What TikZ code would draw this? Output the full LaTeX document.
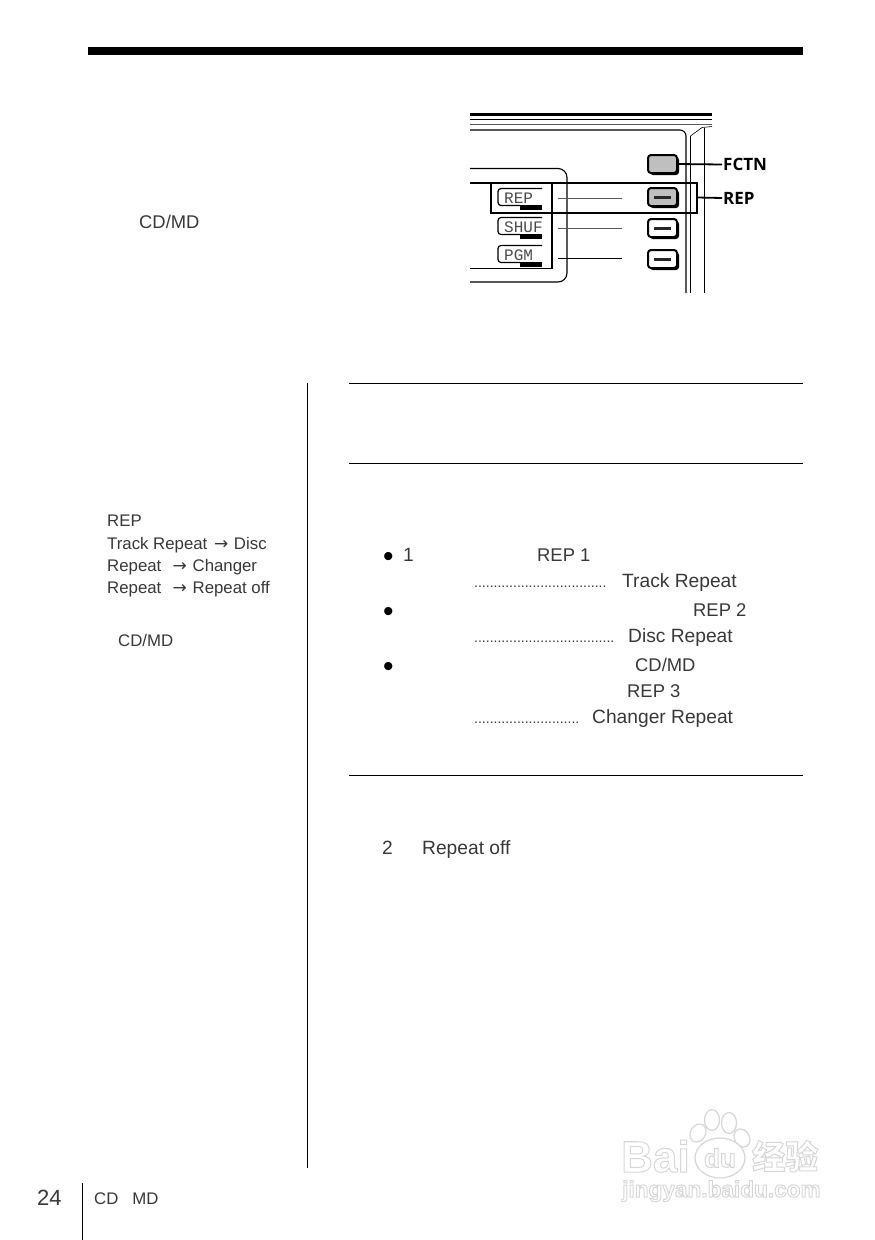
\documentclass[tikz,border=0pt]{standalone}
\usepackage{fontspec}
\setmainfont{Liberation Sans}
\newfontfamily\labelfont{Open Sans}
\newfontfamily\lcdfont{Liberation Mono}
\newfontfamily\markfont{Noto Sans CJK SC}
\newfontfamily\arrowfont{DejaVu Sans}
\usetikzlibrary{shadows,shapes.geometric}
\definecolor{ink}{gray}{0.22}
\definecolor{wmark}{gray}{0.84}
\newcommand{\wmoutline}[1]{\special{pdf:code 1 Tr 1 w 0.84 G}#1\special{pdf:code 0 Tr}}
\newcommand{\sidearrow}{\hspace{2pt}{\arrowfont\fontsize{17}{20}\selectfont →}\hspace{1pt}}
\tikzset{
	body/.style={anchor=base west, inner sep=0pt, text=ink, font=\fontsize{19.2}{22}\selectfont},
	capsbody/.style={body, font=\fontsize{18.4}{22}\selectfont},
	side/.style={anchor=base west, inner sep=0pt, text=ink, font=\fontsize{16.8}{20}\selectfont},
	leader/.style={anchor=base west, inner sep=0pt, text=ink, font=\fontsize{14}{14}\selectfont},
	bigdot/.style={anchor=base west, inner sep=0pt, text=black, font=\fontsize{30}{30}\selectfont},
	callout/.style={anchor=west, inner sep=0pt, font=\labelfont\bfseries\fontsize{17}{20}\selectfont},
	lcd/.style={anchor=west, inner sep=0pt, text=black!70, font=\lcdfont\fontsize{16}{16}\selectfont},
	panelkey/.style={draw, line width=2pt, rounded corners=3pt, minimum width=29pt, minimum height=18pt, inner sep=0pt, fill=white, drop shadow={shadow xshift=2pt, shadow yshift=-2pt, fill=black, opacity=1}},
	graykey/.style={panelkey, fill=black!25},
	wmtext/.style={inner sep=0pt, text=wmark},
	wmtoe/.style={draw=wmark, fill=white, line width=1.2pt, ellipse, inner sep=0pt}
}
\begin{document}
\begin{tikzpicture}[x=1pt, y=-1pt]
		\useasboundingbox (0,0) rectangle (875,1240);
		\fill (88,46.5) rectangle (803,55);

		\draw[line width=2.5pt] (470,114.5) -- (712,114.5);
		\draw[line width=0.8pt] (470,119.5) -- (712,119.5);
		\draw[line width=1.3pt, black!65] (470,124.5) -- (712,124.5);
		\draw[line width=1.1pt] (470,130) -- (680,130) to[out=0, in=90] (686,136) -- (686,293);
		\draw[line width=1.1pt] (690.5,136) -- (690.5,293);
		\draw[line width=1.1pt] (704.5,128) -- (704.5,293);
		\draw[line width=0.6pt] (690.5,136) -- (702,127.5) -- (712,126.5);

		\draw[line width=1.1pt, rounded corners=9pt] (470,168.5) -- (567,168.5) -- (567,282) -- (470,282);
		\draw[line width=1.1pt] (470,183) -- (491,183);
		\draw[line width=1.1pt] (470,268.5) -- (552,268.5) -- (552,184);

		\draw[line width=1.2pt, rounded corners=3pt] (542,188.5) -- (498,188.5) -- (498,205.5) -- (520,205.5);
		\fill (520,204.5) rectangle (542,209.5);
		\node[lcd] (reptag) at (504,198) {REP};
		\draw[line width=1.2pt, rounded corners=3pt] (542,217.5) -- (498,217.5) -- (498,234.5) -- (520,234.5);
		\fill (520,233.5) rectangle (542,238.5);
		\node[lcd] (shuftag) at (504,227) {SHUF};
		\draw[line width=1.2pt, rounded corners=3pt] (542,245.5) -- (498,245.5) -- (498,262.5) -- (520,262.5);
		\fill (520,261.5) rectangle (542,266.5);
		\node[lcd] (pgmtag) at (504,255) {PGM};

		\node[graykey] (fctnkey) at (662.5,164) {};
		\node[graykey] (repkey) at (662.5,197) {};
		\node[panelkey] (shufkey) at (662.5,228) {};
		\node[panelkey] (pgmkey) at (662.5,259) {};
		\draw[line width=2.4pt, black!85] (654,197.5) -- (671,197.5);
		\draw[line width=2.4pt, black!85] (654,228.5) -- (671,228.5);
		\draw[line width=2.4pt, black!85] (654,259.5) -- (671,259.5);

		\draw[line width=1pt, black!65] (558,198) -- (622,198);
		\draw[line width=1pt, black!65] (558,228) -- (622,228);
		\draw[line width=1pt] (558,258) -- (622,258);

		\node[draw, line width=2pt, minimum width=206pt, minimum height=30pt, inner sep=0pt] (repbox) at (593.5,197.5) {};

		\node[callout] (fctnlabel) at (723,164.5) {FCTN};
		\node[callout] (replabel) at (723,198) {REP};
		\draw[line width=1.8pt] (fctnkey.east) -- ([xshift=-1pt]fctnlabel.west);
		\draw[line width=1.8pt] (repbox.east) -- ([xshift=-1pt]replabel.west);

		\node[capsbody] (cdmd) at (139,228) {CD/MD};

		\draw[line width=1pt] (307.5,383) -- (307.5,1168);
		\draw[line width=1pt] (349,383.5) -- (803,383.5);
		\draw[line width=1pt] (349,463.5) -- (803,463.5);
		\draw[line width=1pt] (349,775) -- (803,775);

		\node[side] (siderep) at (107,526) {REP};
		\node[side] (sidea) at (107,549) {Track Repeat \sidearrow{} Disc};
		\node[side] (sideb) at (107,571) {Repeat \ \sidearrow{} Changer};
		\node[side] (sidec) at (107,593) {Repeat \ \sidearrow{} Repeat off};
		\node[side] (sidecd) at (118,646) {CD/MD};

		\node[bigdot] (bulleta) at (383,566) {•};
		\node[body] (onea) at (403,561) {1};
		\node[capsbody] (repa) at (537,561) {REP 1};
		\node[leader] (dotsa) at (474,587) {..................................};
		\node[body] (tracka) at (622,587) {Track Repeat};
		\node[bigdot] (bulletb) at (383,621) {•};
		\node[capsbody] (repb) at (693,616) {REP 2};
		\node[leader] (dotsb) at (474,642) {....................................};
		\node[body] (discb) at (628,642) {Disc Repeat};
		\node[bigdot] (bulletc) at (383,676) {•};
		\node[capsbody] (cdmdc) at (635,671) {CD/MD};
		\node[capsbody] (repc) at (627,697) {REP 3};
		\node[leader] (dotsc) at (474,723) {...........................};
		\node[body] (changerc) at (592,723) {Changer Repeat};
		\node[body] (twod) at (382,854) {2};
		\node[body] (offd) at (422,854) {Repeat off};

		\node[anchor=base west, inner sep=0pt, text=ink, font=\fontsize{22}{24}\selectfont] (pageno) at (37,1205) {24};
		\draw[line width=1pt] (82,1183) -- (82,1240);
		\node[side] (footer) at (94,1204) {CD\hspace{14pt}MD};

		\node[wmtext, anchor=base west, font=\bfseries\fontsize{44}{44}\selectfont] (wmbai) at (621,1172) {\wmoutline{Bai}};
		\node[wmtoe, minimum width=15pt, minimum height=19pt, rotate=-30] (wmtoea) at (698,1133) {};
		\node[wmtoe, minimum width=15pt, minimum height=21pt] (wmtoeb) at (712,1120) {};
		\node[wmtoe, minimum width=15pt, minimum height=21pt] (wmtoec) at (729,1123) {};
		\node[wmtoe, minimum width=15pt, minimum height=19pt, rotate=30] (wmtoed) at (742,1138) {};
		\node[wmtoe, minimum width=50pt, minimum height=40pt] (wmpalm) at (720,1158) {};
		\node[wmtext, font=\bfseries\fontsize{26}{26}\selectfont] (wmdu) at (wmpalm) {\wmoutline{du}};
		\node[wmtext, anchor=base west, font=\markfont\bfseries\fontsize{33}{33}\selectfont] (wmjy) at (752,1169) {\wmoutline{经验}};
		\node[wmtext, anchor=base west, font=\bfseries\fontsize{22.6}{23}\selectfont] (wmurl) at (622,1197) {\wmoutline{jingyan.baidu.com}};
		\end{tikzpicture}
\end{document}
